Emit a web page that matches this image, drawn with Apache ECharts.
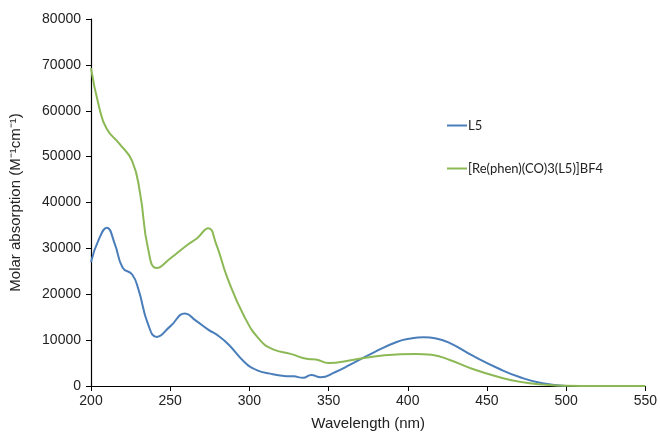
<!DOCTYPE html>
<html><head><meta charset="utf-8">
<script src="https://cdn.jsdelivr.net/npm/echarts@6/dist/echarts.min.js"></script>
<style>html,body{margin:0;padding:0;background:#fff}#c{width:660px;height:436px}</style>
</head><body><div id="c"></div>
<script>
const seriesNames = ['L5', '[Re(phen)(CO)3(L5)]BF4'];
const l5Wavelength = [200, 205, 210, 215, 220, 226, 230, 236, 241.5, 250, 259.5, 266, 274, 281, 287, 297, 305, 313, 322, 328, 334, 339, 345, 354, 364, 379, 393, 402, 410, 418, 427, 441, 458, 471, 485, 500];
const l5Values = [27000, 32000, 34500, 31000, 25800, 24300, 21000, 13500, 10700, 13000, 15800, 14300, 12300, 10800, 9000, 5200, 3400, 2700, 2200, 2100, 1800, 2400, 1900, 3000, 4700, 7400, 9600, 10350, 10600, 10350, 9300, 6600, 3700, 1900, 600, 0];
const reWavelength = [200, 205, 210, 218, 226, 231, 236, 241.5, 250, 261, 267, 274, 279, 286, 297, 307, 315, 326, 337, 342, 350, 364, 380, 395, 405, 415, 427, 441, 458, 471, 486, 500, 520, 550];
const reValues = [69300, 61000, 56000, 52800, 49000, 42000, 30000, 25700, 27800, 30800, 32200, 34400, 31000, 23700, 15000, 9900, 8000, 7000, 5900, 5800, 5000, 5600, 6500, 6900, 7000, 6800, 5600, 3700, 1900, 900, 300, 50, 0, 0];

const toPairs = (xs, ys) => xs.map((x, i) => [x, ys[i]]);
const chart = echarts.init(document.getElementById('c'));
chart.setOption({
  animation: false,
  textStyle: { fontFamily: 'Liberation Sans, Arial, sans-serif' },
  grid: { left: 89, right: 14, top: 19, bottom: 47, containLabel: false },
  legend: {
    orient: 'vertical', left: 442, top: 114, itemGap: 30,
    itemWidth: 20, itemHeight: 2, icon: 'rect',
    textStyle: { fontFamily: 'Lato, sans-serif', fontSize: 13, color: '#222', padding: [0, 0, 0, -4] },
    data: seriesNames
  },
  xAxis: {
    type: 'value', min: 200, max: 550, interval: 50,
    name: 'Wavelength (nm)', nameLocation: 'middle', nameGap: 30,
    nameTextStyle: { fontSize: 15, color: '#222' },
    axisLine: { lineStyle: { color: '#000', width: 1.2 } },
    axisTick: { show: true, length: 5, lineStyle: { color: '#000' } },
    axisLabel: { fontSize: 14, color: '#222', margin: 8 },
    splitLine: { show: false }
  },
  yAxis: {
    type: 'value', min: 0, max: 80000, interval: 10000,
    name: 'Molar absorption (M\u207B\u00B9cm\u207B\u00B9)', nameLocation: 'middle', nameGap: 68, nameRotate: 90,
    nameTextStyle: { fontSize: 15, color: '#222' },
    axisLine: { show: true, lineStyle: { color: '#000', width: 1.2 } },
    axisTick: { show: true, length: 5, lineStyle: { color: '#000' } },
    axisLabel: { fontSize: 14, color: '#222', margin: 10, formatter: v => String(v) },
    splitLine: { show: false }
  },
  series: [
    { name: seriesNames[0], type: 'line', smooth: 0.5, symbol: 'none',
      lineStyle: { color: '#4a7ebb', width: 2 }, itemStyle: { color: '#4a7ebb' },
      data: toPairs(l5Wavelength, l5Values) },
    { name: seriesNames[1], type: 'line', smooth: 0.5, symbol: 'none',
      lineStyle: { color: '#8cb955', width: 2 }, itemStyle: { color: '#8cb955' },
      data: toPairs(reWavelength, reValues) }
  ]
});
</script></body></html>
